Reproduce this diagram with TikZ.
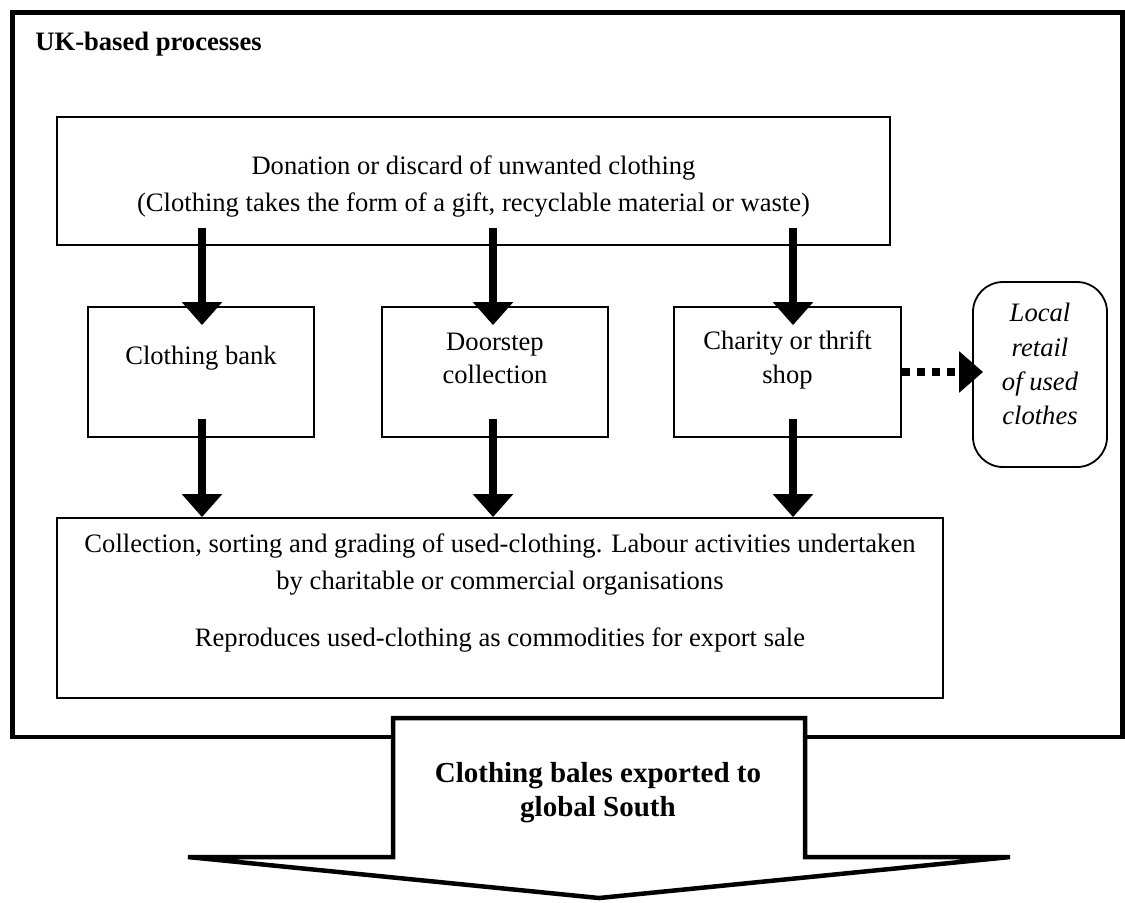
\documentclass[tikz,border=0pt]{standalone}
\usepackage{fontspec}
\setmainfont{Liberation Serif}
\usetikzlibrary{arrows.meta,calc,fit}
\begin{document}
\begin{tikzpicture}[x=0.5pt,y=-0.5pt,
  box/.style={draw, line width=0.9pt, inner sep=0pt},
  txt/.style={font=\fontsize{13.3}{16}\selectfont, anchor=base, inner sep=0pt},
  itxt/.style={font=\fontsize{13.3}{16}\selectfont\itshape, anchor=base, inner sep=0pt},
  bigarrow/.style={line width=3.8pt, -{Triangle[width=19.5pt,length=11.5pt]}},
  dotarrow/.style={line width=4pt, dash pattern=on 4pt off 3.5pt, -{Triangle[width=20pt,length=12pt]}},
]
\useasboundingbox (0,0) rectangle (1125,902);

% outer frame
\node[draw, line width=2.25pt, inner sep=0pt, fit={(12.5,12.5) (1122.5,737)}] (outer) {};
\node[anchor=base west, inner sep=0pt, font=\bfseries\fontsize{13.3}{16}\selectfont] (title) at (35,50) {UK-based processes};

% top box
\node[box, fit={(57,117) (890,245)}] (don) {};
\node[txt] (don1) at (473.5,174) {Donation or discard of unwanted clothing};
\node[txt] (don2) at (473.5,211) {(Clothing takes the form of a gift, recyclable material or waste)};

% middle boxes
\node[box, fit={(88,307) (314,437)}] (bank) {};
\node[txt] (bank1) at (201,364) {Clothing bank};
\node[box, fit={(382,307) (608,437)}] (door) {};
\node[txt] (door1) at (495,350) {Doorstep};
\node[txt] (door2) at (495,383) {collection};
\node[box, fit={(674,307) (901,437)}] (shop) {};
\node[txt] (shop1) at (787.5,349) {Charity or thrift};
\node[txt] (shop2) at (787.5,383) {shop};

% local retail
\node[box, rounded corners=15pt, fit={(973,282) (1107,467)}] (local) {};
\node[itxt] (loc1) at (1040,321) {Local};
\node[itxt] (loc2) at (1040,356) {retail};
\node[itxt] (loc3) at (1040,390) {of used};
\node[itxt] (loc4) at (1040,424) {clothes};

% lower box
\node[box, fit={(57,518) (943,698)}] (low) {};
\node[txt] (low1) at (500,552) {Collection, sorting and grading of used-clothing. Labour activities undertaken};
\node[txt] (low2) at (500,589) {by charitable or commercial organisations};
\node[txt] (low3) at (500,646) {Reproduces used-clothing as commodities for export sale};

% arrow columns
\coordinate (x1) at (202,0);
\coordinate (x2) at (493,0);
\coordinate (x3) at (793,0);

\draw[bigarrow] ($(don.south -| x1)+(0,-18)$) -- ($(bank.north -| x1)+(0,19)$);
\draw[bigarrow] ($(don.south -| x2)+(0,-18)$) -- ($(door.north -| x2)+(0,19)$);
\draw[bigarrow] ($(don.south -| x3)+(0,-18)$) -- ($(shop.north -| x3)+(0,19)$);

\draw[bigarrow] ($(bank.south -| x1)+(0,-19)$) -- (low.north -| x1);
\draw[bigarrow] ($(door.south -| x2)+(0,-19)$) -- (low.north -| x2);
\draw[bigarrow] ($(shop.south -| x3)+(0,-19)$) -- (low.north -| x3);

\draw[dotarrow] (shop.east) -- ($(shop.east -| local.west)+(11,0)$);

% export arrow
\draw[line width=2.25pt, fill=white, line join=miter]
  (393,718) -- (805,718) -- (805,857) -- (1010,857) -- (599,898) -- (188,857) -- (393,857) -- cycle;
\node[anchor=base, inner sep=0pt, font=\bfseries\fontsize{14.5}{17}\selectfont] (exp1) at (598,782) {Clothing bales exported to};
\node[anchor=base, inner sep=0pt, font=\bfseries\fontsize{14.5}{17}\selectfont] (exp2) at (598,816) {global South};
\end{tikzpicture}
\end{document}
